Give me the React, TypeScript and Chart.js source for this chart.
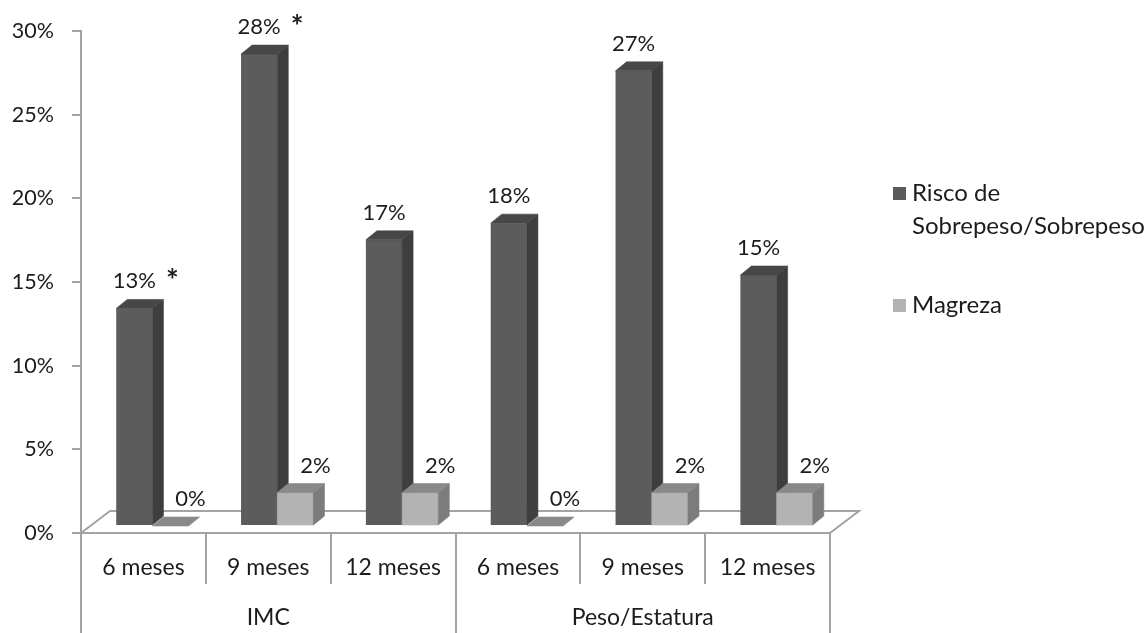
import React, { useEffect, useRef } from 'react';
import { Chart, registerables } from 'chart.js';

Chart.register(...registerables);

// ---------- data ----------
const categories = ['6 meses', '9 meses', '12 meses', '6 meses', '9 meses', '12 meses'];
const groups = ['IMC', 'Peso/Estatura'];
const groupSize = 3;
const seriesNames = ['Risco de Sobrepeso/Sobrepeso', 'Magreza'];
const legendLines = [['Risco de', 'Sobrepeso/Sobrepeso'], ['Magreza']];
const riscoValues = [13.0, 28.2, 17.1, 18.1, 27.2, 15.0];
const magrezaValues = [0, 2, 2, 0, 2, 2];
const riscoMarks = ['*', '*', '', '', '', ''];
const yTicks = [0, 5, 10, 15, 20, 25, 30];

// ---------- style ----------
const FONT = 'Lato';
const TEXT = '#1c1c1c';
const AXIS = '#a3a3a3';
const BAR_DX = 9;
const BAR_DY = -7;
const DEPTH_X = 11;
const DEPTH_Y = -9;
const FLOOR_X = 29;
const FLOOR_Y = -22;
const faces = [
  { front: '#5c5c5c', side: '#3e3e3e', top: '#474747' },
  { front: '#b3b3b3', side: '#7c7c7c', top: '#898989' },
];

function poly(ctx: CanvasRenderingContext2D, pts: number[][], color: string) {
  ctx.beginPath();
  ctx.moveTo(pts[0][0], pts[0][1]);
  for (let i = 1; i < pts.length; i++) ctx.lineTo(pts[i][0], pts[i][1]);
  ctx.closePath();
  ctx.fillStyle = color;
  ctx.strokeStyle = color;
  ctx.lineWidth = 0.6;
  ctx.fill();
  ctx.stroke();
}

const threeDPlugin = {
  id: 'threeD',
  beforeDatasetsDraw(chart: any) {
    const { ctx, chartArea } = chart;
    const { left, right, bottom } = chartArea;
    ctx.save();
    ctx.beginPath();
    ctx.moveTo(left, bottom);
    ctx.lineTo(left + FLOOR_X, bottom + FLOOR_Y);
    ctx.lineTo(right + FLOOR_X, bottom + FLOOR_Y);
    ctx.lineTo(right, bottom);
    ctx.closePath();
    ctx.fillStyle = '#ffffff';
    ctx.fill();
    ctx.strokeStyle = AXIS;
    ctx.lineWidth = 2;
    ctx.stroke();
    ctx.restore();
    ctx.save();
    ctx.translate(BAR_DX, BAR_DY);
  },
  afterDatasetsDraw(chart: any) {
    const { ctx } = chart;
    const metas = [chart.getDatasetMeta(0), chart.getDatasetMeta(1)];
    for (let i = 0; i < categories.length; i++) {
      metas.forEach((meta: any, d: number) => {
        const el = meta.data[i];
        if (!el) return;
        const p = el.getProps(['x', 'y', 'base', 'width'], true);
        const L = p.x - p.width / 2;
        const R = p.x + p.width / 2;
        const T = Math.min(p.y, p.base);
        const B = Math.max(p.y, p.base);
        const f = faces[d];
        if (d === 1 && B - T > 0) {
          poly(ctx, [[L, T], [R, T], [R, B], [L, B]], f.front);
        }
        if (B - T > 0) {
          poly(ctx, [[R, T], [R + DEPTH_X, T + DEPTH_Y], [R + DEPTH_X, B + DEPTH_Y], [R, B]], f.side);
        }
        poly(ctx, [[L, T], [L + DEPTH_X, T + DEPTH_Y], [R + DEPTH_X, T + DEPTH_Y], [R, T]], f.top);
      });
    }
    ctx.restore();

    // data labels
    ctx.save();
    ctx.fillStyle = TEXT;
    ctx.textBaseline = 'alphabetic';
    metas.forEach((meta: any, d: number) => {
      const values = d === 0 ? riscoValues : magrezaValues;
      meta.data.forEach((el: any, i: number) => {
        const p = el.getProps(['x', 'y'], true);
        const text = Math.round(values[i]) + '%';
        const cx = p.x + BAR_DX + (d === 1 ? 20 : 0);
        const by = p.y + BAR_DY - 20;
        ctx.font = `22px ${FONT}`;
        ctx.textAlign = 'center';
        ctx.fillText(text, cx, by);
        if (d === 0 && riscoMarks[i]) {
          const w = ctx.measureText(text).width;
          ctx.textAlign = 'left';
          ctx.font = `bold 30px ${FONT}`;
          ctx.fillText(riscoMarks[i], cx + w / 2 + 10, by + 3);
        }
      });
    });
    ctx.restore();
  },
  afterDraw(chart: any) {
    const { ctx, chartArea } = chart;
    const xs = chart.scales.x;
    const n = categories.length;
    const w = (xs.right - xs.left) / n;
    const H = chart.height;
    ctx.save();
    ctx.strokeStyle = AXIS;
    ctx.lineWidth = 2;
    for (let k = 0; k <= n; k++) {
      const x = Math.round(xs.left + k * w);
      ctx.beginPath();
      ctx.moveTo(x, chartArea.bottom);
      ctx.lineTo(x, k % groupSize === 0 ? H : chartArea.bottom + 51);
      ctx.stroke();
    }
    ctx.fillStyle = TEXT;
    ctx.textAlign = 'center';
    ctx.textBaseline = 'alphabetic';
    ctx.font = `23px ${FONT}`;
    categories.forEach((c, i) => {
      ctx.fillText(c, xs.getPixelForValue(i), chartArea.bottom + 42);
    });
    groups.forEach((g, gi) => {
      const a = xs.getPixelForValue(gi * groupSize);
      const b = xs.getPixelForValue(gi * groupSize + groupSize - 1);
      ctx.fillText(g, (a + b) / 2, chartArea.bottom + 92);
    });

    // legend
    ctx.textAlign = 'left';
    ctx.font = `24px ${FONT}`;
    const legendX = 893;
    const legendTops = [187, 299];
    legendLines.forEach((lines, d) => {
      ctx.fillStyle = faces[d].front;
      ctx.fillRect(legendX, legendTops[d], 13, 13);
      ctx.fillStyle = TEXT;
      lines.forEach((line, li) => {
        ctx.fillText(line, legendX + 19, legendTops[d] + 14 + li * 33);
      });
    });
    ctx.restore();
  },
};

export default function App() {
  const ref = useRef<HTMLCanvasElement | null>(null);
  useEffect(() => {
    if (!ref.current) return;
    const chart = new Chart(ref.current, {
      type: 'bar',
      data: {
        labels: categories,
        datasets: [
          {
            label: seriesNames[0],
            data: riscoValues,
            backgroundColor: faces[0].front,
            borderWidth: 0,
            clip: false as any,
          },
          {
            label: seriesNames[1],
            data: magrezaValues,
            backgroundColor: faces[1].front,
            borderWidth: 0,
            clip: false as any,
          },
        ],
      },
      options: {
        responsive: false,
        animation: false,
        devicePixelRatio: 1,
        layout: { padding: { left: 0, top: 31, right: 318, bottom: 100 } },
        datasets: { bar: { categoryPercentage: 0.58, barPercentage: 1.0 } },
        plugins: { legend: { display: false }, tooltip: { enabled: false } },
        scales: {
          x: { display: false, offset: true },
          y: {
            min: 0,
            max: 30,
            afterFit: (s: any) => {
              s.width = 81;
            },
            afterBuildTicks: (s: any) => {
              s.ticks = yTicks.map((v) => ({ value: v }));
            },
            ticks: {
              padding: 18,
              color: TEXT,
              font: { family: FONT, size: 21.5 },
              callback: (v: any) => v + '%',
            },
            grid: {
              drawOnChartArea: false,
              drawTicks: true,
              tickLength: 9,
              color: AXIS,
              lineWidth: 2,
            },
            border: { display: true, color: AXIS, width: 2 },
          },
        },
      },
      plugins: [threeDPlugin],
    });
    return () => chart.destroy();
  }, []);
  return (
    <div style={{ position: 'fixed', left: 0, top: 0, width: 1148, height: 633, background: '#fff' }}>
      <canvas ref={ref} width={1148} height={633} />
    </div>
  );
}
